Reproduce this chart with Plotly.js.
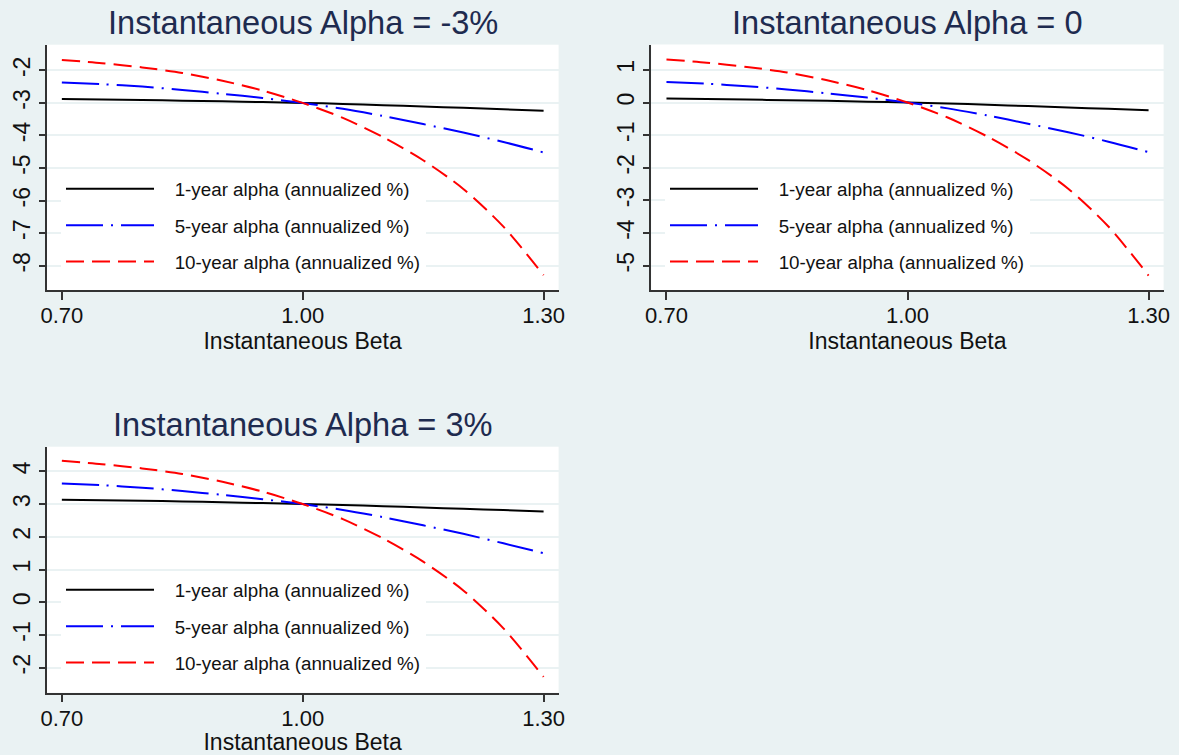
<!DOCTYPE html>
<html>
<head>
<meta charset="utf-8">
<script src="https://cdn.plot.ly/plotly-3.0.1.min.js"></script>
<style>html,body{margin:0;padding:0;background:#eaf2f3;}#chart{width:1179px;height:755px;}</style>
</head>
<body>
<div id="chart"></div>
<script>
// ---- data ----
const beta = [0.70, 0.75, 0.80, 0.85, 0.90, 0.95, 1.00, 1.05, 1.10, 1.15, 1.20, 1.25, 1.30];
const xTickVals = [0.70, 1.00, 1.30];
const xTickText = ['0.70', '1.00', '1.30'];
const yTickValsNeg = [-8, -7, -6, -5, -4, -3, -2];
const yTickTextNeg = ['-8', '-7', '-6', '-5', '-4', '-3', '-2'];
const yTickValsZero = [-5, -4, -3, -2, -1, 0, 1];
const yTickTextZero = ['-5', '-4', '-3', '-2', '-1', '0', '1'];
const yTickValsPos = [-2, -1, 0, 1, 2, 3, 4];
const yTickTextPos = ['-2', '-1', '0', '1', '2', '3', '4'];
const seriesNames = ['1-year alpha (annualized %)', '5-year alpha (annualized %)', '10-year alpha (annualized %)'];
const panelTitles = ['Instantaneous Alpha = -3%', 'Instantaneous Alpha = 0', 'Instantaneous Alpha = 3%'];
const xTitle = 'Instantaneous Beta';

// Instantaneous alpha = -3%
const negOneYear  = [-2.88, -2.895, -2.91, -2.93, -2.95, -2.975, -3.00, -3.03, -3.07, -3.11, -3.15, -3.195, -3.24];
const negFiveYear = [-2.37, -2.425, -2.50, -2.60, -2.72, -2.85, -3.00, -3.18, -3.40, -3.65, -3.91, -4.20, -4.52];
const negTenYear  = [-1.68, -1.78, -1.91, -2.08, -2.32, -2.62, -3.00, -3.46, -4.05, -4.76, -5.64, -6.80, -8.29];
// Instantaneous alpha = 0
const zeroOneYear  = [0.12, 0.105, 0.09, 0.07, 0.05, 0.025, 0.00, -0.03, -0.07, -0.11, -0.15, -0.195, -0.24];
const zeroFiveYear = [0.63, 0.575, 0.50, 0.40, 0.28, 0.15, 0.00, -0.18, -0.40, -0.65, -0.91, -1.20, -1.52];
const zeroTenYear  = [1.32, 1.22, 1.09, 0.92, 0.68, 0.38, 0.00, -0.46, -1.05, -1.76, -2.64, -3.80, -5.30];
// Instantaneous alpha = 3%
const posOneYear  = [3.13, 3.115, 3.10, 3.08, 3.055, 3.03, 3.00, 2.97, 2.935, 2.895, 2.855, 2.815, 2.775];
const posFiveYear = [3.63, 3.575, 3.50, 3.40, 3.28, 3.15, 3.00, 2.82, 2.60, 2.35, 2.09, 1.80, 1.50];
const posTenYear  = [4.32, 4.22, 4.09, 3.92, 3.68, 3.38, 3.00, 2.54, 1.95, 1.24, 0.36, -0.80, -2.28];

// ---- styling ----
const FONT = 'Liberation Sans, Arial, sans-serif';
const BG = '#eaf2f3';
const TITLE_COLOR = '#1e2b4f';
const TEXT_COLOR = '#111111';
const lineStyles = [
  {color: '#000000', width: 2, dash: 'solid'},
  {color: '#0000ff', width: 2, dash: '37px,8px,2px,8px'},
  {color: '#ff0000', width: 2, dash: '18px,8px'}
];
const PAD = '\u00a0\u00a0\u00a0';

const panels = [
  {series: [negOneYear, negFiveYear, negTenYear], xa: 'x', ya: 'y', legend: 'legend'},
  {series: [zeroOneYear, zeroFiveYear, zeroTenYear], xa: 'x2', ya: 'y2', legend: 'legend2'},
  {series: [posOneYear, posFiveYear, posTenYear], xa: 'x3', ya: 'y3', legend: 'legend3'}
];

const traces = [];
panels.forEach((p, pi) => {
  p.series.forEach((vals, si) => {
    traces.push({
      type: 'scatter', mode: 'lines',
      x: beta, y: vals,
      xaxis: p.xa, yaxis: p.ya,
      name: PAD + seriesNames[si],
      legend: p.legend,
      legendgroup: 'g' + pi + '_' + si,
      line: Object.assign({shape: 'spline', smoothing: 0.8}, lineStyles[si]),
      hoverinfo: 'x+y'
    });
  });
});

const W = 1179, H = 755;
const px = v => v / W;
const py = v => 1 - v / H;

function xAxis(left, right, anchor) {
  return {
    domain: [px(left), px(right)], anchor: anchor,
    range: [0.681, 1.3187],
    tickmode: 'array', tickvals: xTickVals, ticktext: xTickText,
    ticks: 'outside', ticklen: 8, tickwidth: 1.5, tickcolor: '#333',
    ticklabelstandoff: -3,
    showline: true, linecolor: '#333', linewidth: 1.5,
    showgrid: false, zeroline: false,
    tickfont: {family: FONT, size: 22, color: TEXT_COLOR},
    title: {text: xTitle, font: {family: FONT, size: 23, color: TEXT_COLOR}, standoff: 1},
    automargin: true, fixedrange: true
  };
}
function yAxis(top, bottom, range, vals, texts, anchor) {
  return {
    domain: [py(bottom), py(top)], anchor: anchor,
    range: range,
    tickmode: 'array', tickvals: vals, ticktext: texts,
    ticks: 'outside', ticklen: 6, tickwidth: 1.5, tickcolor: '#333',
    tickangle: -90,
    showline: true, linecolor: '#333', linewidth: 1.5,
    showgrid: true, gridcolor: BG, gridwidth: 2,
    zeroline: false,
    tickfont: {family: FONT, size: 23, color: TEXT_COLOR},
    automargin: false, fixedrange: true
  };
}
function legendAt(xpx, ypx) {
  return {
    x: px(xpx), y: py(ypx), xanchor: 'left', yanchor: 'top',
    bgcolor: '#ffffff', borderwidth: 0,
    font: {family: FONT, size: 18.8, color: TEXT_COLOR},
    itemwidth: 88, tracegroupgap: 9,
    traceorder: 'grouped', itemclick: false, itemdoubleclick: false
  };
}
function panelTitle(text, xc, yc) {
  return {text: text, xref: 'paper', yref: 'paper', x: px(xc), y: py(yc),
          xanchor: 'center', yanchor: 'middle', showarrow: false,
          font: {family: FONT, size: 32.6, color: TITLE_COLOR}};
}

const layout = {
  width: W, height: H,
  margin: {l: 0, r: 0, t: 0, b: 0, autoexpand: false},
  paper_bgcolor: BG, plot_bgcolor: '#ffffff',
  font: {family: FONT, color: TEXT_COLOR},
  showlegend: true,
  xaxis: xAxis(46.6, 558.6, 'y'),
  yaxis: yAxis(44.7, 290, [-8.744, -1.213], yTickValsNeg, yTickTextNeg, 'x'),
  xaxis2: xAxis(651.2, 1163.6, 'y2'),
  yaxis2: yAxis(44.5, 290, [-5.744, 1.777], yTickValsZero, yTickTextZero, 'x2'),
  xaxis3: xAxis(46.6, 558.6, 'y3'),
  yaxis3: yAxis(446.7, 692.7, [-2.765, 4.753], yTickValsPos, yTickTextPos, 'x3'),
  legend: legendAt(61, 170),
  legend2: legendAt(665, 170),
  legend3: legendAt(61, 571),
  annotations: [
    panelTitle(panelTitles[0], 302.6, 22.5),
    panelTitle(panelTitles[1], 907.4, 22.5),
    panelTitle(panelTitles[2], 302.6, 424)
  ]
};

Plotly.newPlot('chart', traces, layout, {displayModeBar: false, responsive: false});
</script>
</body>
</html>
